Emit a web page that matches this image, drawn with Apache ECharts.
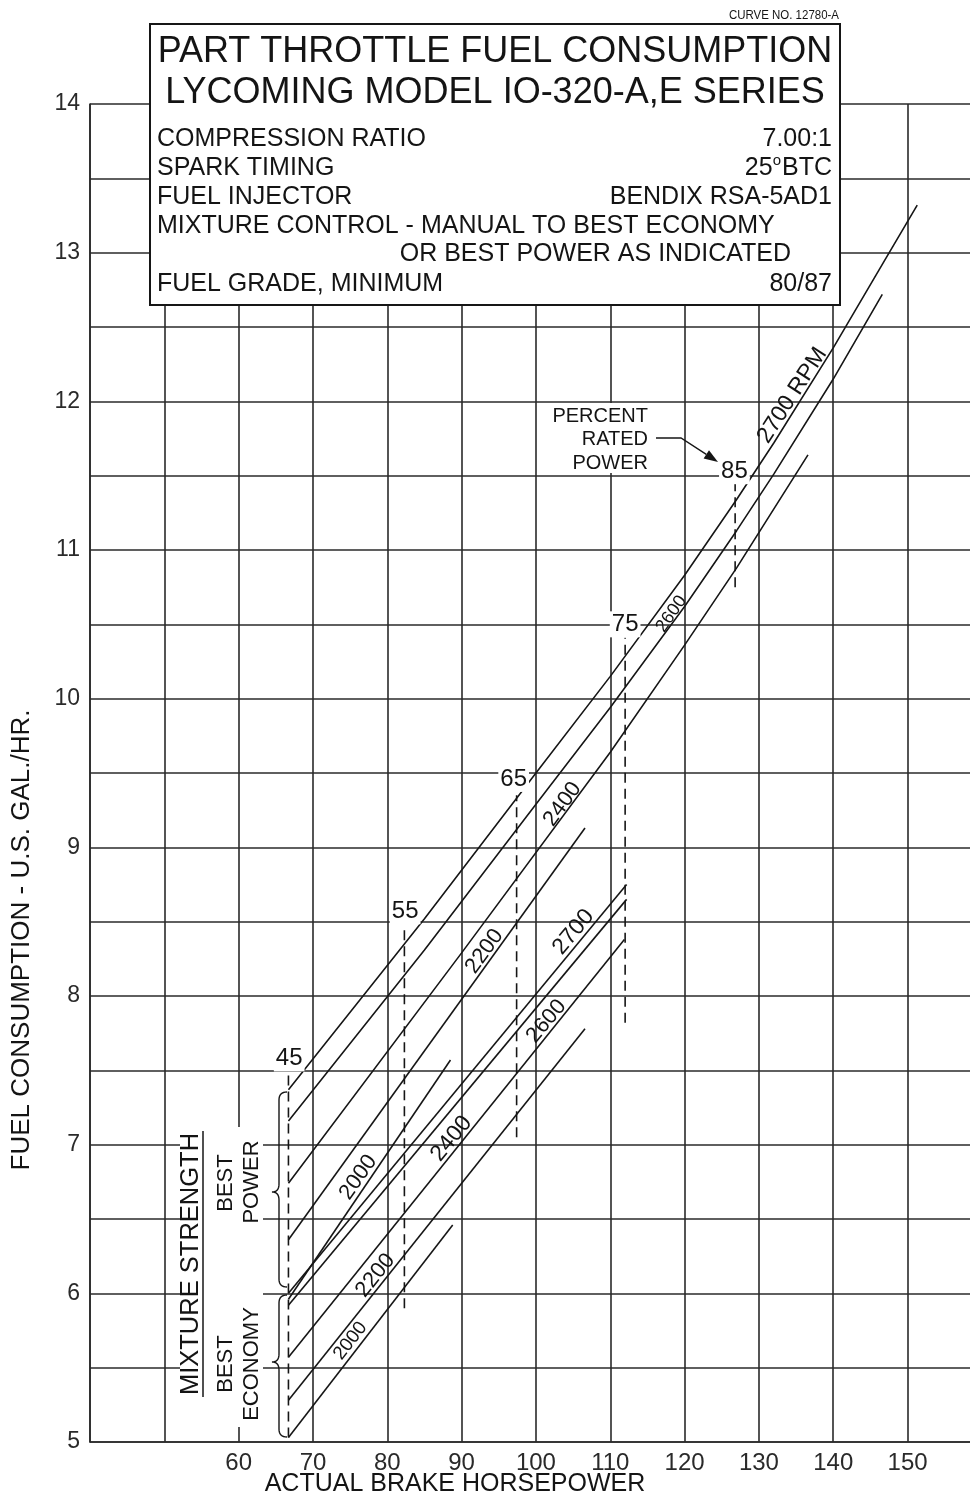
<!DOCTYPE html>
<html><head><meta charset="utf-8">
<script src="https://cdn.jsdelivr.net/npm/echarts/dist/echarts.min.js"></script>
<style>html,body{margin:0;padding:0;background:#fff}#c{width:970px;height:1497px}</style>
</head><body><div id="c"></div>
<script>
const FONT = '"Liberation Sans", Arial, Helvetica, sans-serif';

// ---- axis values ----
const hpMin = 40, hpMax = 158.4, hpStep = 10, hpFirstLabel = 60;
const gphMin = 5, gphMax = 14, gphStep = 0.5;

// ---- best power curves (hp, US gal/hr) ----
const bestPower2700 = [[66.7,7.37],[85,8.52],[100,9.5],[110,10.15],[120,10.83],[127,11.34],[132,11.72],[140,12.36],[146.7,12.93],[151.3,13.32]];
const bestPower2600 = [[66.7,7.16],[85,8.31],[100,9.29],[110,9.94],[120,10.62],[127,11.13],[132,11.51],[140,12.15],[146.6,12.72]];
const bestPower2400 = [[66.7,6.74],[90,8.29],[110,9.64],[120,10.36],[127,10.88],[136.6,11.64]];
const bestPower2200 = [[66.7,6.36],[106.6,9.13]];
const bestPower2000 = [[66.7,5.96],[88.5,7.57]];
// ---- best economy curves ----
const bestEconomy2700 = [[66.7,6.0],[112.2,8.75]];
const bestEconomy2600 = [[66.7,5.92],[112.2,8.65]];
const bestEconomy2400 = [[66.7,5.57],[111.9,8.38]];
const bestEconomy2200 = [[66.7,5.28],[106.6,7.78]];
const bestEconomy2000 = [[66.7,5.03],[88.8,6.46]];

// ---- percent rated power lines ----
const percentRated = [45, 55, 65, 75, 85];
const percentHp = [66.7, 82.3, 97.4, 112.0, 126.8];
const percentFrom = [5.03, 5.9, 7.05, 7.82, 10.75];
const percentTo = [7.47, 8.46, 9.35, 10.41, 11.46];

// ---- curve label texts ----
const powerLabels = ['2700 RPM', '2600', '2400', '2200', '2000'];
const economyLabels = ['2700', '2600', '2400', '2200', '2000'];

// ---- layout (positions / sizes / rotations) ----
const powerLabelPos = [[134.48,12.04],[118.24,10.57],[103.57,9.29],[93.07,8.30],[76.1,6.78]];
const powerLabelRot = [57, 55, 54, 54, 55];
const powerLabelSize = [23, 18, 22, 22, 22];
const economyLabelPos = [[105.05,8.43],[101.41,7.83],[88.63,7.04],[78.4,6.12],[75.03,5.68]];
const economyLabelRot = [50, 50, 51, 51, 52];
const economyLabelSize = [23, 22, 23, 22, 19];
const percentLabelPos = [[66.8,7.58],[82.4,8.57],[97.0,9.46],[112.0,10.50],[126.7,11.53]];

const INK = '#161616';
const TXT = '#141414';
const curves = [bestPower2700, bestPower2600, bestPower2400, bestPower2200, bestPower2000,
                bestEconomy2700, bestEconomy2600, bestEconomy2400, bestEconomy2200, bestEconomy2000];

const series = [];
curves.forEach(d => series.push({
  type: 'line', data: d, symbol: 'none', showSymbol: false, silent: true, z: 3,
  lineStyle: { color: INK, width: 1.6 }
}));
percentRated.forEach((p, i) => series.push({
  type: 'line', data: [[percentHp[i], percentFrom[i]], [percentHp[i], percentTo[i]]],
  symbol: 'none', showSymbol: false, silent: true, z: 3,
  lineStyle: { color: INK, width: 1.6, type: [10, 6] }
}));
series.push({
  type: 'scatter', symbolSize: 1, silent: true, z: 6, itemStyle: { color: 'rgba(0,0,0,0)', opacity: 1 },
  data: percentRated.map((p, i) => ({ name: String(p), value: percentLabelPos[i] })),
  label: { show: true, position: 'inside', formatter: '{b}', fontFamily: FONT, fontSize: 24,
           color: TXT, opacity: 1, backgroundColor: '#fff', padding: [1, 2] }
});
const curveLabelData = [];
powerLabels.forEach((t, i) => curveLabelData.push({ name: t, value: powerLabelPos[i],
  label: { rotate: powerLabelRot[i], fontSize: powerLabelSize[i] } }));
economyLabels.forEach((t, i) => curveLabelData.push({ name: t, value: economyLabelPos[i],
  label: { rotate: economyLabelRot[i], fontSize: economyLabelSize[i] } }));
series.push({
  type: 'scatter', symbolSize: 1, silent: true, z: 6, itemStyle: { color: 'rgba(0,0,0,0)', opacity: 1 },
  data: curveLabelData,
  label: { show: true, position: 'inside', formatter: '{b}', fontFamily: FONT, color: TXT, opacity: 1 }
});

// ---- helpers for annotations ----
function txt(text, x, y, size, align, extra) {
  return Object.assign({ type: 'text', x: x, y: y, z: 60, silent: true,
    style: { text: text, fontFamily: FONT, fontSize: size, fill: TXT,
             align: align || 'left', textAlign: align || 'left',
             verticalAlign: 'middle', textVerticalAlign: 'middle' } }, extra || {});
}
function brace(xEnd, xSpine, xTip, yTop, yMid, yBot, r) {
  const pts = [];
  function quad(p0, c, p1) { for (let t = 0; t <= 1.0001; t += 0.125) {
    const a = (1-t)*(1-t), b = 2*(1-t)*t, d = t*t;
    pts.push([a*p0[0]+b*c[0]+d*p1[0], a*p0[1]+b*c[1]+d*p1[1]]); } }
  quad([xEnd, yTop], [xSpine, yTop], [xSpine, yTop + r]);
  pts.push([xSpine, yMid - r]);
  quad([xSpine, yMid - r], [xSpine, yMid], [xTip, yMid]);
  quad([xTip, yMid], [xSpine, yMid], [xSpine, yMid + r]);
  pts.push([xSpine, yBot - r]);
  quad([xSpine, yBot - r], [xSpine, yBot], [xEnd, yBot]);
  return { type: 'polyline', z: 60, silent: true, shape: { points: pts },
           style: { stroke: INK, lineWidth: 1.4, fill: null } };
}
const mctx = document.createElement('canvas').getContext('2d');
function tw(t, size) { mctx.font = size + 'px ' + FONT; return mctx.measureText(t).width; }

const rowSize = 25;
const rightEdge = 832;
const graphics = [
  // white masks
  { type: 'rect', z: 50, silent: true, shape: { x: 180, y: 1127, width: 83, height: 300 }, style: { fill: '#fff' } },
  { type: 'rect', z: 50, silent: true, shape: { x: 548, y: 403, width: 104, height: 70 }, style: { fill: '#fff' } },
  // title box
  { type: 'rect', z: 50, silent: true, shape: { x: 150, y: 24, width: 690, height: 281 },
    style: { fill: '#fff', stroke: INK, lineWidth: 2 } },
  txt('CURVE NO. 12780-A', 839, 15, 13.5, 'right', { scaleX: 0.85 }),
  txt('PART THROTTLE FUEL CONSUMPTION', 495, 52, 36, 'center'),
  txt('LYCOMING MODEL IO-320-A,E SERIES', 495, 93, 36, 'center'),
  txt('COMPRESSION RATIO', 157, 139.5, rowSize, 'left'),
  txt('7.00:1', rightEdge, 139.5, rowSize, 'right'),
  txt('SPARK TIMING', 157, 167.7, rowSize, 'left'),
  txt('BTC', rightEdge, 167.7, rowSize, 'right'),
  txt('o', rightEdge - tw('BTC', rowSize) - 1, 161, 15, 'right'),
  txt('25', rightEdge - tw('BTC', rowSize) - tw('o', 15) - 1, 167.7, rowSize, 'right'),
  txt('FUEL INJECTOR', 157, 196.7, rowSize, 'left'),
  txt('BENDIX RSA-5AD1', rightEdge, 196.7, rowSize, 'right'),
  txt('MIXTURE CONTROL - MANUAL TO BEST ECONOMY', 157, 226, rowSize, 'left'),
  txt('OR BEST POWER AS INDICATED', 791, 254, rowSize, 'right'),
  txt('FUEL GRADE, MINIMUM', 157, 284, rowSize, 'left'),
  txt('80/87', rightEdge, 284, rowSize, 'right'),
  // axis titles
  txt('ACTUAL BRAKE HORSEPOWER', 455, 1484, 25, 'center'),
  txt('FUEL CONSUMPTION - U.S. GAL./HR.', 22, 940, 26, 'center', { rotation: Math.PI / 2 }),
  // mixture strength block
  txt('MIXTURE STRENGTH', 191, 1264, 25.5, 'center', { rotation: Math.PI / 2 }),
  { type: 'line', z: 60, silent: true, shape: { x1: 203, y1: 1131, x2: 203, y2: 1397 }, style: { stroke: INK, lineWidth: 1.5 } },
  txt('BEST', 226, 1183, 22, 'center', { rotation: Math.PI / 2 }),
  txt('POWER', 252, 1182, 22, 'center', { rotation: Math.PI / 2 }),
  txt('BEST', 226, 1364, 22, 'center', { rotation: Math.PI / 2 }),
  txt('ECONOMY', 252, 1364, 22, 'center', { rotation: Math.PI / 2 }),
  brace(287, 279, 272, 1092, 1192, 1287, 8),
  brace(287, 279, 272, 1295, 1362, 1437, 8),
  // percent rated power note
  txt('PERCENT', 648, 416, 20, 'right'),
  txt('RATED', 648, 439.5, 20, 'right'),
  txt('POWER', 648, 463, 20, 'right'),
  { type: 'polyline', z: 60, silent: true, shape: { points: [[656, 438], [681, 438], [706.3, 454.4]] },
    style: { stroke: INK, lineWidth: 1.4, fill: null } },
  { type: 'polygon', z: 60, silent: true, shape: { points: [[718, 462], [703.6, 458.6], [709, 450.2]] },
    style: { fill: INK } }
];

const chart = echarts.init(document.getElementById('c'), null, { renderer: 'canvas', width: 970, height: 1497 });
chart.setOption({
  animation: false,
  backgroundColor: '#fff',
  grid: { left: 90, top: 104, right: 0, bottom: 55, containLabel: false, outerBoundsMode: 'none' },
  xAxis: {
    type: 'value', min: hpMin, max: hpMax, interval: hpStep,
    axisLine: { show: true, lineStyle: { color: '#2a2a2a', width: 1.6 } },
    axisTick: { show: false },
    splitLine: { show: true, showMaxLine: false, lineStyle: { color: '#2a2a2a', width: 1.6 } },
    axisLabel: { show: true, margin: 9, fontFamily: FONT, fontSize: 24, color: '#2a2a2a',
      showMaxLabel: false,
      formatter: v => (v >= hpFirstLabel && v % hpStep === 0 ? String(v) : '') }
  },
  yAxis: {
    type: 'value', min: gphMin, max: gphMax, interval: gphStep,
    axisLine: { show: true, lineStyle: { color: '#2a2a2a', width: 1.6 } },
    axisTick: { show: false },
    splitLine: { show: true, lineStyle: { color: '#2a2a2a', width: 1.6 } },
    axisLabel: { show: true, margin: 10, fontFamily: FONT, fontSize: 23, color: '#2a2a2a',
      formatter: v => (Number.isInteger(v) ? String(v) : '') }
  },
  series: series,
  graphic: { elements: graphics }
});
</script></body></html>
